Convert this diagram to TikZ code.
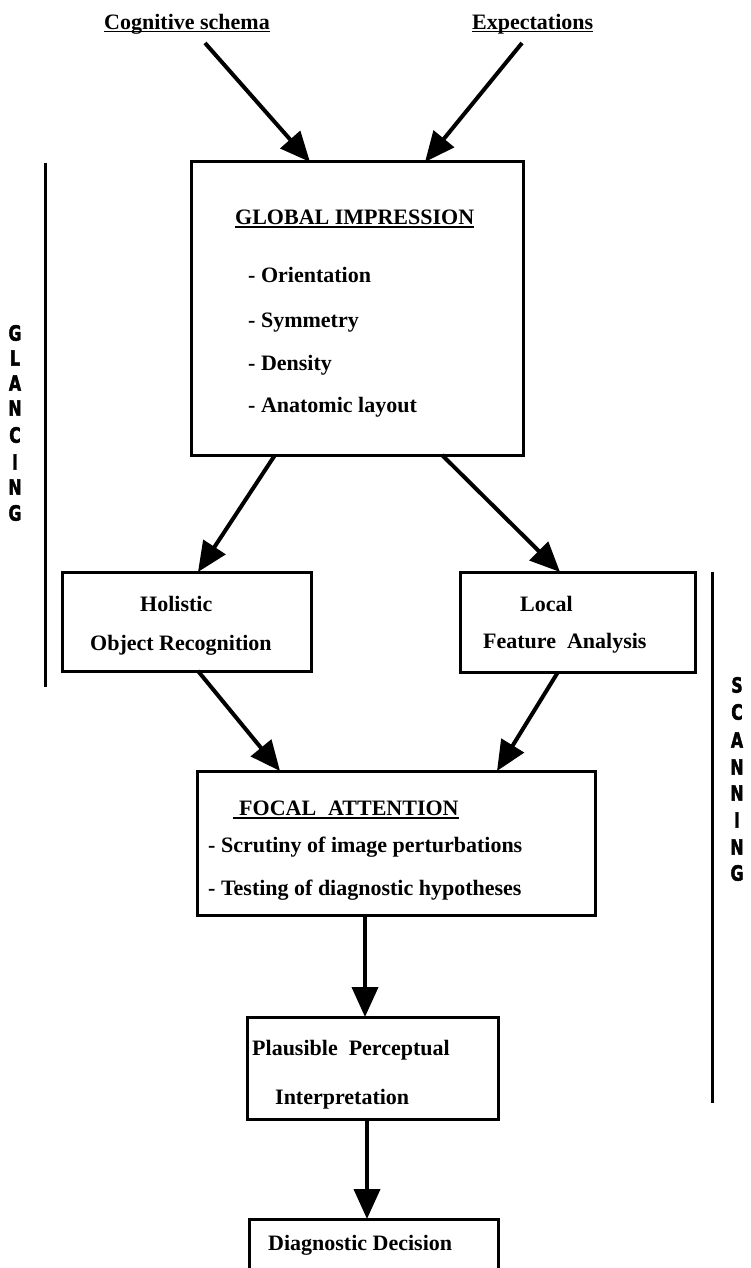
\documentclass[tikz,border=0pt]{standalone}
\usepackage{fontspec}
\setmainfont{Liberation Serif}
\newfontfamily\sidefont{DejaVu Sans}[BoldFont={DejaVu Sans Bold}, BoldFeatures={FakeBold=2.5}]
\usepackage{graphicx}
\usetikzlibrary{arrows.meta}
\newcommand\ulbar[1]{\setbox0=\hbox{#1}\rlap{\rule[-3pt]{\wd0}{1.6pt}}\box0}
\newcommand\sidel[1]{\scalebox{0.75}[1]{#1}}
\begin{document}
\begin{tikzpicture}[x=1pt,y=-1pt,
  box/.style={draw,line width=3pt,inner sep=0pt},
  txt/.style={font=\fontsize{22}{26}\selectfont\bfseries, inner sep=0pt, text height=15pt, text depth=0pt, anchor=west},
  arr/.style={line width=4pt,-{Triangle[length=30pt,width=26pt]}},
  sideline/.style={line width=3pt},
  letter/.style={font=\fontsize{21}{24}\selectfont\sidefont\bfseries, inner sep=0pt}
]
\useasboundingbox (0,0) rectangle (751,1268);

% boxes
\node[box, minimum width=332pt, minimum height=293pt] (glob) at (357,308.5) {};
\node[box, minimum width=249pt, minimum height=99pt] (hol) at (186.5,621.5) {};
\node[box, minimum width=235pt, minimum height=100pt] (loc) at (577.5,622) {};
\node[box, minimum width=398pt, minimum height=144pt] (foc) at (396,843) {};
\node[box, minimum width=251pt, minimum height=102pt] (pla) at (372.5,1068) {};
\node[box, minimum width=249pt, minimum height=62pt] (dia) at (373.5,1250) {};

% texts
\node[txt, anchor=east] (cog) at (270,22) {\ulbar{Cognitive schema}};
\node[txt] (exp) at (472,22) {\ulbar{Expectations}};
\node[txt] (gtitle) at (235,217) {\ulbar{GLOBAL IMPRESSION}};
\node[txt] (o1) at (248,275) {- Orientation};
\node[txt] (o2) at (248,320) {- Symmetry};
\node[txt] (o3) at (248,363) {- Density};
\node[txt] (o4) at (248,405) {- Anatomic layout};
\node[txt] (h1) at (140,604) {Holistic};
\node[txt] (h2) at (90,643) {Object Recognition};
\node[txt] (l1) at (520,604) {Local};
\node[txt] (l2) at (483,641) {Feature\ \ Analysis};
\node[txt] (ftitle) at (233,808) {\ulbar{\hspace{6pt}FOCAL\hspace{12pt}ATTENTION}};
\node[txt] (f1) at (208,845) {- Scrutiny of image perturbations};
\node[txt] (f2) at (208,888) {- Testing of diagnostic hypotheses};
\node[txt] (p1) at (252,1048) {Plausible\ \ Perceptual};
\node[txt] (p2) at (275,1097) {Interpretation};
\node[txt] (d1) at (268,1243) {Diagnostic\ Decision};

% connector end points
\coordinate (c1s) at (205,43);  \coordinate (c1e) at (310,162);
\coordinate (c2s) at (522,43);  \coordinate (c2e) at (425,162);
\coordinate (g1s) at (275,455); \coordinate (g1e) at (198,572);
\coordinate (g2s) at (442,455); \coordinate (g2e) at (560,572);
\coordinate (h3s) at (198,671); \coordinate (h3e) at (280,771);
\coordinate (l3s) at (558,672); \coordinate (l3e) at (497,771);
\coordinate (f3s) at (365,915); \coordinate (f3e) at (365,1017);
\coordinate (p3s) at (367,1119);\coordinate (p3e) at (367,1219);

\draw[arr] (c1s) -- (c1e);
\draw[arr] (c2s) -- (c2e);
\draw[arr] (g1s) -- (g1e);
\draw[arr] (g2s) -- (g2e);
\draw[arr] (h3s) -- (h3e);
\draw[arr] (l3s) -- (l3e);
\draw[arr] (f3s) -- (f3e);
\draw[arr] (p3s) -- (p3e);

% side bars
\coordinate (gla1) at (45,163); \coordinate (gla2) at (45,687);
\coordinate (sca1) at (712,572); \coordinate (sca2) at (712,1103);
\draw[sideline] (gla1) -- (gla2);
\draw[sideline] (sca1) -- (sca2);

\node[letter] (gA) at (15,333) {\sidel{G}};
\node[letter] (gB) at (15,358) {\sidel{L}};
\node[letter] (gC) at (15,383) {\sidel{A}};
\node[letter] (gD) at (15,408) {\sidel{N}};
\node[letter] (gE) at (15,435) {\sidel{C}};
\node[letter] (gF) at (15,462) {\sidel{I}};
\node[letter] (gG) at (15,487) {\sidel{N}};
\node[letter] (gH) at (15,513) {\sidel{G}};

\node[letter] (sA) at (737,685) {\sidel{S}};
\node[letter] (sB) at (737,712) {\sidel{C}};
\node[letter] (sC) at (737,740) {\sidel{A}};
\node[letter] (sD) at (737,767) {\sidel{N}};
\node[letter] (sE) at (737,793) {\sidel{N}};
\node[letter] (sF) at (737,820) {\sidel{I}};
\node[letter] (sG) at (737,847) {\sidel{N}};
\node[letter] (sH) at (737,873) {\sidel{G}};
\end{tikzpicture}
\end{document}
